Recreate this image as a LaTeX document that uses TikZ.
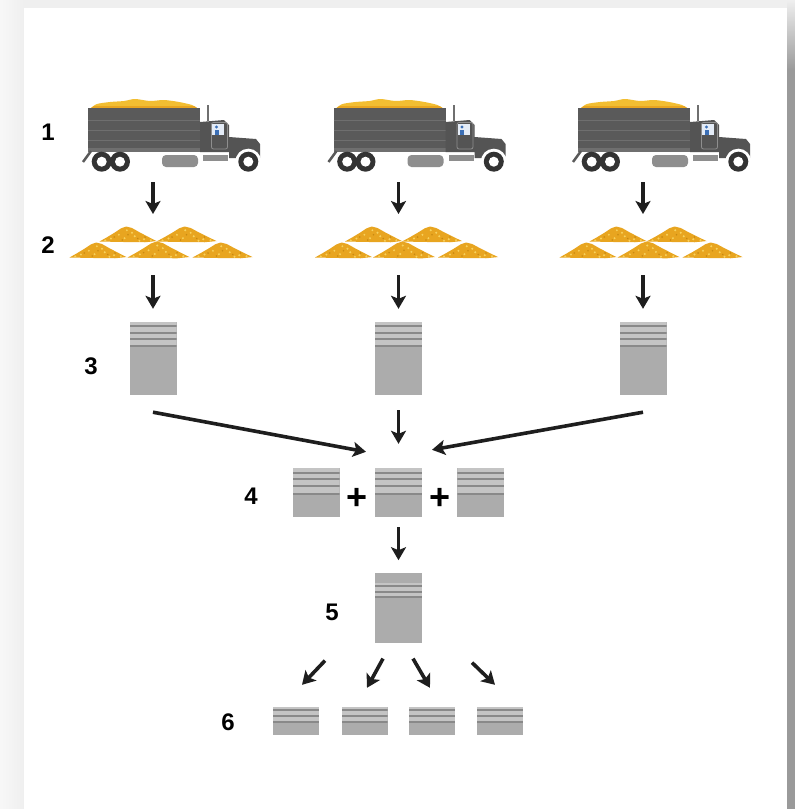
\documentclass[tikz,border=0pt]{standalone}
\usepackage{fontspec}
\setmainfont{Liberation Sans}
\usetikzlibrary{arrows.meta, positioning, calc}

\definecolor{grainorange}{HTML}{E8A520}
\definecolor{grainlight}{HTML}{F7D25E}
\definecolor{graindark}{HTML}{C98A12}
\definecolor{grainyellow}{HTML}{F2BE32}
\definecolor{truckgrey}{HTML}{5A5A5A}
\definecolor{truckline}{HTML}{6F6F6F}
\definecolor{cabgrey}{HTML}{545454}
\definecolor{tankgrey}{HTML}{8E8E8E}
\definecolor{tyre}{HTML}{333333}
\definecolor{cabglass}{HTML}{E4ECF7}
\definecolor{driver}{HTML}{3B6FB6}
\definecolor{bagbody}{HTML}{ACACAC}
\definecolor{bagband}{HTML}{C4C4C4}
\definecolor{bagline}{HTML}{898989}
\definecolor{arrowdark}{HTML}{1E1E1E}
\definecolor{pagegrey}{HTML}{EFEFEF}
\definecolor{shadowgrey}{HTML}{9A9A9A}

\tikzset{
  % one low heap of grain, width #1 and height #2
  pics/heap/.style 2 args={code={
    \begin{scope}[x=#1pt, y=#2pt]
      \fill[grainorange] (-0.5,0) -- (-0.37,0.28) -- (-0.24,0.58) -- (-0.12,0.88)
        -- (-0.03,1) -- (0.07,0.9) -- (0.2,0.62) -- (0.36,0.3) -- (0.5,0.03)
        -- (0.3,-0.05) -- (-0.15,-0.03) -- cycle;
      \foreach \u/\v in {-0.3/0.2, -0.16/0.45, -0.02/0.75, 0.12/0.35, 0.28/0.15,
                         -0.06/0.22, 0.07/0.58, -0.4/0.07, 0.4/0.08, 0.2/0.05}
        \fill[grainlight] (\u,\v) circle[radius=1.1pt];
      \foreach \u/\v in {-0.24/0.3, 0.0/0.45, 0.17/0.2, -0.1/0.1, 0.3/0.3}
        \fill[graindark] (\u,\v) circle[radius=0.9pt];
    \end{scope}}},
  pics/grains/.style={code={
    \pic at (-33,-1.5) {heap={57}{15}};
    \pic at (25.5,-1.5) {heap={60}{15}};
    \pic at (-63,14.5) {heap={57}{15}};
    \pic at (-2.5,14.5) {heap={62}{16}};
    \pic at (61.5,14.5) {heap={60}{15}};
    \coordinate (-in) at (-8,-29);
    \coordinate (-out) at (-8,32);
  }},
  pics/truck/.style={code={
    \fill[grainyellow] plot[smooth] coordinates {(3,0) (9,-4) (22,-6) (36,-7)
      (47,-9) (62,-7) (76,-8) (91,-6) (104,-3) (109,0)} -- cycle;
    \fill[grainorange] (3,0) -- (6,-2) -- (106,-2) -- (109,0) -- cycle;
    \fill[truckgrey] (0,0) rectangle (112,44);
    \foreach \s in {12,22,32} \draw[truckline, line width=0.8pt] (0,\s) -- (112,\s);
    \fill[truckline] (0,40) rectangle (112,44);
    \draw[truckgrey, line width=2.5pt] (-5,54) -- (3,43);
    \draw[truckline, line width=2pt] (120,-3) -- (120,13);
    \fill[cabgrey] (112,44) -- (112,14) -- (136,12) -- (141,17) -- (141,29)
      -- (168,31) -- (172,36) -- (172,50) -- (141,50) -- (141,44) -- cycle;
    \fill[cabglass] (124,16) rectangle (136,27);
    \fill[driver] (128.5,19) circle[radius=1.6pt];
    \fill[driver] (126.5,21.5) rectangle (130.5,27);
    \draw[tankgrey, line width=0.8pt, rounded corners=2pt] (123.5,14.5) rectangle (139.5,41);
    \fill[tankgrey, rounded corners=4pt] (74,47) rectangle (110,59);
    \fill[tankgrey] (115,47) rectangle (140,53);
    \fill[white] (160.3,53.7) circle[radius=13pt];
    \foreach \w in {13.7,32,160.3} {
      \fill[tyre] (\w,53.7) circle[radius=10pt];
      \fill[white] (\w,53.7) circle[radius=5pt];
    }
    \coordinate (-out) at (65,74);
  }}
}

\begin{document}
\begin{tikzpicture}[
    x=1pt, y=-1pt,
    num/.style={font=\fontsize{24}{24}\selectfont\bfseries, inner sep=0pt},
    plus/.style={font=\fontsize{36}{36}\selectfont\bfseries, inner sep=0pt},
    sack/.style n args={3}{fill=bagbody, inner sep=0pt, path picture={
      \fill[bagband] ([yshift=-#2pt]path picture bounding box.north west)
        rectangle ([yshift=-#3pt]path picture bounding box.north east);
      \foreach \s in {#1}
        \fill[bagline] ([yshift=-\s pt]path picture bounding box.north west)
          rectangle ([yshift=-\s pt-2pt]path picture bounding box.north east);}},
    load/.style={sack={3,10,16,23}{0}{25}, minimum width=47pt, minimum height=73pt},
    mix/.style={sack={4,10,17,25}{0}{27}, minimum width=47pt, minimum height=49pt},
    blend/.style={sack={12,18,23}{10}{25}, minimum width=47pt, minimum height=70pt},
    portion/.style={sack={2,8,14}{0}{16}, minimum width=46pt, minimum height=28pt},
    arr/.style={-{Stealth[length=13pt, width=15pt, inset=3pt]}, line width=3.6pt, arrowdark}
  ]
  \useasboundingbox (0,0) rectangle (795,809);
  \fill[pagegrey] (0,0) rectangle (795,809);
  \shade[left color=white!97!black, right color=pagegrey] (0,0) rectangle (24,809);
  \shade[top color=pagegrey, bottom color=shadowgrey] (787,0) rectangle (795,70);
  \fill[shadowgrey] (787,70) rectangle (795,809);
  \fill[white] (24,8) rectangle (787,809);

  % step labels
  \node[num] (n1) at (48,132) {1};
  \node[num] (n2) at (48,245) {2};
  \node[num] (n3) at (91,366) {3};
  \node[num] (n4) at (251,496) {4};
  \node[num] (n5) at (332,612) {5};
  \node[num] (n6) at (228,722) {6};

  % deliveries
  \pic (truckA) at (88,108) {truck};
  \pic (truckB) at (333.5,108) {truck};
  \pic (truckC) at (578,108) {truck};
  \pic (grainA) at (161,243) {grains};
  \pic (grainB) at (406.5,243) {grains};
  \pic (grainC) at (651,243) {grains};

  \node[load] (loadA) at (153,358.5) {};
  \node[load] (loadB) at (398.5,358.5) {};
  \node[load] (loadC) at (643,358.5) {};

  \node[mix] (mixM) at (398.5,492.5) {};
  \node[mix, left=35pt of mixM] (mixL) {};
  \node[mix, right=35pt of mixM] (mixR) {};
  \node[plus, yshift=-6pt] (plusL) at ($(mixL)!.5!(mixM)$) {+};
  \node[plus, yshift=-6pt] (plusR) at ($(mixM)!.5!(mixR)$) {+};

  \node[blend, below=56pt of mixM] (blend) {};

  \node[portion] (partA) at (296,721) {};
  \node[portion] (partB) at (364.5,721) {};
  \node[portion] (partC) at (432,721) {};
  \node[portion] (partD) at (500,721) {};

  \foreach \c in {A,B,C} {
    \draw[arr] (truck\c-out) -- (grain\c-in);
    \draw[arr, shorten >=13pt] (grain\c-out) -- (load\c);
  }
  \draw[arr] ([yshift=-17pt]loadA.south) -- ([xshift=-32.5pt, yshift=16pt]mixM.north);
  \draw[arr, shorten <=15pt, shorten >=24pt] (loadB) -- (mixM);
  \draw[arr] ([yshift=-17pt]loadC.south) -- ([xshift=33.5pt, yshift=18pt]mixM.north);
  \draw[arr, shorten <=10pt, shorten >=13pt] (mixM) -- (blend);

  \draw[arr] ([xshift=-73.5pt, yshift=-17pt]blend.south) -- ([xshift=6pt, yshift=22pt]partA.north);
  \draw[arr] ([xshift=-15.5pt, yshift=-15pt]blend.south) -- ([xshift=2.5pt, yshift=19pt]partB.north);
  \draw[arr] ([xshift=14.5pt, yshift=-15pt]blend.south) -- ([xshift=-2pt, yshift=19pt]partC.north);
  \draw[arr] ([xshift=73.5pt, yshift=-19pt]blend.south) -- ([xshift=-5pt, yshift=22pt]partD.north);
\end{tikzpicture}
\end{document}
